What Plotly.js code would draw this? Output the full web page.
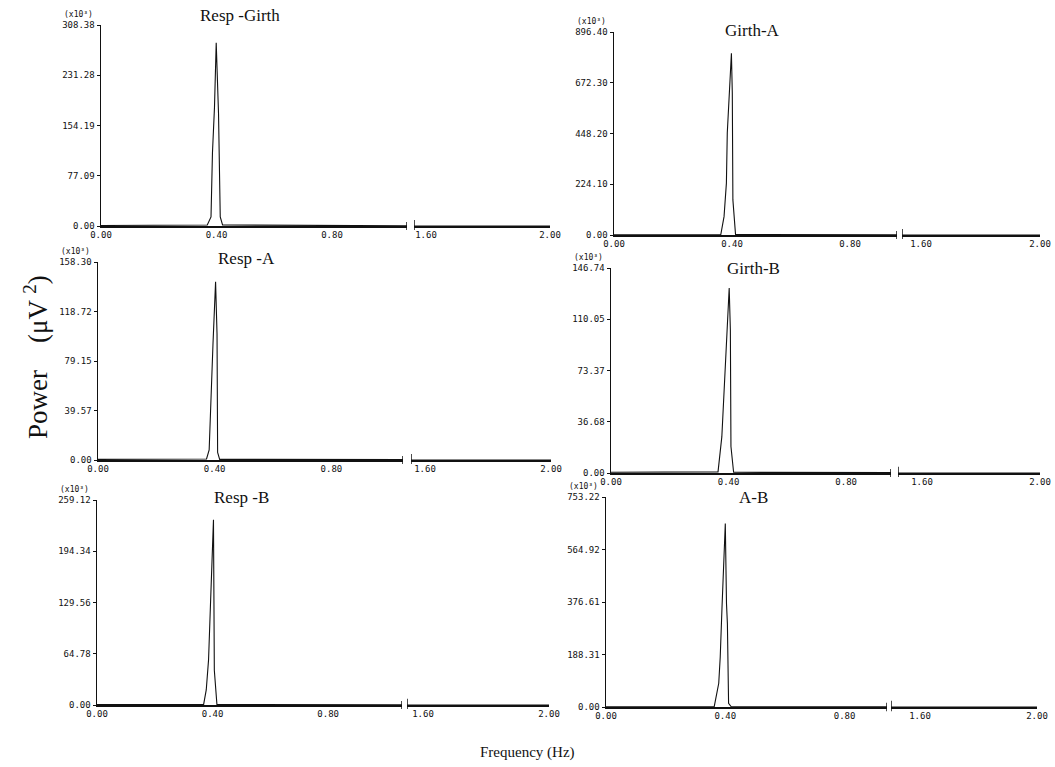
<!DOCTYPE html>
<html>
<head>
<meta charset="utf-8">
<script src="https://cdn.plot.ly/plotly-3.0.1.min.js"></script>
<style>html,body{margin:0;padding:0;background:#fff}#chart{width:1055px;height:767px}</style>
</head>
<body>
<div id="chart"></div>
<script>
// ---------- data ----------
const panelTitles = ["Resp -Girth", "Girth-A", "Resp -A", "Girth-B", "Resp -B", "A-B"];
const multiplierLabel = "(x10³)";

const respGirthFreq  = [0.00, 0.368, 0.381, 0.386, 0.393, 0.399, 0.407, 0.413, 0.421, 1.07];
const respGirthPower = [0.8, 1.5, 14, 112, 182, 281, 173, 14, 1.5, 0.3];

const girthAFreq  = [0.00, 0.362, 0.373, 0.381, 0.384, 0.390, 0.398, 0.401, 0.403, 0.412, 0.97];
const girthAPower = [1, 2, 81, 229, 450, 596, 802, 627, 155, 2, 1];

const respAFreq  = [0.00, 0.372, 0.381, 0.389, 0.394, 0.403, 0.408, 0.410, 0.417, 1.07];
const respAPower = [0.5, 0.8, 8, 70, 92, 142.5, 101, 6, 0.5, 0.3];

const girthBFreq  = [0.00, 0.364, 0.377, 0.389, 0.402, 0.406, 0.408, 0.417, 0.97];
const girthBPower = [0.5, 0.8, 26, 79, 132.4, 102.6, 19, 0.5, 0.3];

const respBFreq  = [0.00, 0.369, 0.378, 0.386, 0.392, 0.398, 0.403, 0.404, 0.406, 0.415, 1.07];
const respBPower = [0.5, 0.8, 19, 57, 120, 179, 234, 171, 44, 0.5, 0.3];

const abFreq  = [0.00, 0.363, 0.378, 0.383, 0.389, 0.394, 0.400, 0.404, 0.407, 0.411, 0.420, 0.97];
const abPower = [1, 2, 85, 179, 359, 490, 658, 371, 300, 13, 1, 0.5];

// high-frequency part (after the axis break): flat near zero
const tailFreq = [1.50, 2.00];
const tailPower = [0, 0];

// y tick values per panel
const respGirthTicks = [0.00, 77.09, 154.19, 231.28, 308.38];
const girthATicks    = [0.00, 224.10, 448.20, 672.30, 896.40];
const respATicks     = [0.00, 39.57, 79.15, 118.72, 158.30];
const girthBTicks    = [0.00, 36.68, 73.37, 110.05, 146.74];
const respBTicks     = [0.00, 64.78, 129.56, 194.34, 259.12];
const abTicks        = [0.00, 188.31, 376.61, 564.92, 753.22];

const xTicksLow  = [0.00, 0.40, 0.80];
const xTicksHigh = [1.60, 2.00];

// ---------- layout geometry (pixels) ----------
const W = 1055, H = 767;
const freqs  = [respGirthFreq, girthAFreq, respAFreq, girthBFreq, respBFreq, abFreq];
const powers = [respGirthPower, girthAPower, respAPower, girthBPower, respBPower, abPower];
const yticks = [respGirthTicks, girthATicks, respATicks, girthBTicks, respBTicks, abTicks];
// [yAxisX, leftEnd, px per 0.4 (low), rightStart, rightEnd(2.00), px per 0.4 (high), top, bottom]
const geo = [
  [101, 407, 115.5, 414, 550, 124, 25, 226],
  [614, 897, 118.0, 902, 1040, 119, 32, 235],
  [98, 403, 116.7, 411, 551, 126, 262, 460],
  [611, 891, 117.6, 898, 1040, 118, 268, 473],
  [97, 402, 115.6, 407, 549, 126, 500, 705],
  [606, 887, 119.3, 891, 1037, 117, 497, 707]
];
const titleCenters = [[240, 16], [752, 30], [246, 258], [753, 268], [241, 497], [753, 497]];

const tickFont = {family: "DejaVu Sans Mono", size: 9, color: "#111"};
const data = [];
const layout = {
  width: W, height: H,
  margin: {l: 0, r: 0, t: 0, b: 0},
  paper_bgcolor: "#fff", plot_bgcolor: "rgba(0,0,0,0)",
  showlegend: false,
  annotations: [], shapes: []
};

function fmt(v){ return v.toFixed(2); }

for (let i = 0; i < 6; i++) {
  const [ax, lEnd, pxL, rStart, rEnd, pxR, top, bot] = geo[i];
  const xl = 2*i + 1, xr = 2*i + 2, yi = i + 1;
  const xlName = "xaxis" + xl, xrName = "xaxis" + xr, yName = "yaxis" + yi;
  const lowMax = (lEnd - ax) / pxL * 0.4;
  const highMin = 2.0 - (rEnd - rStart) / pxR * 0.4;
  const yDom = [1 - bot / H, 1 - top / H];
  const ymax = yticks[i][yticks[i].length - 1];

  data.push({x: freqs[i], y: powers[i], type: "scatter", mode: "lines",
    line: {color: "#111", width: 1.1}, xaxis: "x" + xl, yaxis: "y" + yi, hoverinfo: "skip"});
  data.push({x: tailFreq, y: tailPower, type: "scatter", mode: "lines",
    line: {color: "#111", width: 1.1}, xaxis: "x" + xr, yaxis: "y" + yi, hoverinfo: "skip"});

  const xcommon = {showgrid: false, zeroline: false, showline: true, linecolor: "#111", linewidth: 1.5,
    ticks: "", tickfont: tickFont, anchor: "y" + yi, fixedrange: true, ticklabeloverflow: "allow"};
  layout[xlName] = Object.assign({}, xcommon, {
    domain: [ax / W, lEnd / W], range: [0, lowMax],
    tickvals: xTicksLow, ticktext: xTicksLow.map(fmt)});
  layout[xrName] = Object.assign({}, xcommon, {
    domain: [rStart / W, rEnd / W], range: [highMin, 2.0],
    tickvals: xTicksHigh, ticktext: xTicksHigh.map(fmt)});
  layout[yName] = {domain: yDom, anchor: "x" + xl, range: [0, ymax],
    showgrid: false, zeroline: false, showline: true, linecolor: "#111", linewidth: 1.5,
    ticks: "outside", ticklen: 3, tickcolor: "#111", tickwidth: 1, ticklabeloverflow: "allow",
    tickvals: yticks[i], ticktext: yticks[i].map(fmt), tickfont: tickFont, fixedrange: true};

  // break marks
  layout.shapes.push({type: "line", xref: "x" + xl, yref: "y" + yi + " domain",
    x0: lowMax, x1: lowMax, y0: -0.02, y1: 0.02, line: {color: "#111", width: 1.5}});
  layout.shapes.push({type: "line", xref: "x" + xr, yref: "y" + yi + " domain",
    x0: highMin, x1: highMin, y0: -0.02, y1: 0.03, line: {color: "#111", width: 1.5}});

  // multiplier
  layout.annotations.push({text: multiplierLabel, xref: "paper", yref: "paper",
    x: (ax - 6) / W, y: 1 - (top - 4) / H, xanchor: "right", yanchor: "bottom",
    showarrow: false, font: {family: "DejaVu Sans Mono", size: 8, color: "#111"}});
  // panel title
  layout.annotations.push({text: panelTitles[i], xref: "paper", yref: "paper",
    x: titleCenters[i][0] / W, y: 1 - titleCenters[i][1] / H, xanchor: "center", yanchor: "middle",
    showarrow: false, font: {family: "Liberation Serif", size: 17, color: "#111"}});
}

// axis titles
layout.annotations.push({text: "Power&nbsp;&nbsp;&nbsp;&nbsp;(μV <sup>2</sup>)", xref: "paper", yref: "paper",
  x: 36 / W, y: 1 - 357 / H, textangle: -90, xanchor: "center", yanchor: "middle",
  showarrow: false, font: {family: "Liberation Serif", size: 27, color: "#111"}});
layout.annotations.push({text: "Frequency (Hz)", xref: "paper", yref: "paper",
  x: 527 / W, y: 1 - 752 / H, xanchor: "center", yanchor: "middle",
  showarrow: false, font: {family: "Liberation Serif", size: 15, color: "#111"}});

Plotly.newPlot("chart", data, layout, {staticPlot: true, displayModeBar: false});
</script>
</body>
</html>
